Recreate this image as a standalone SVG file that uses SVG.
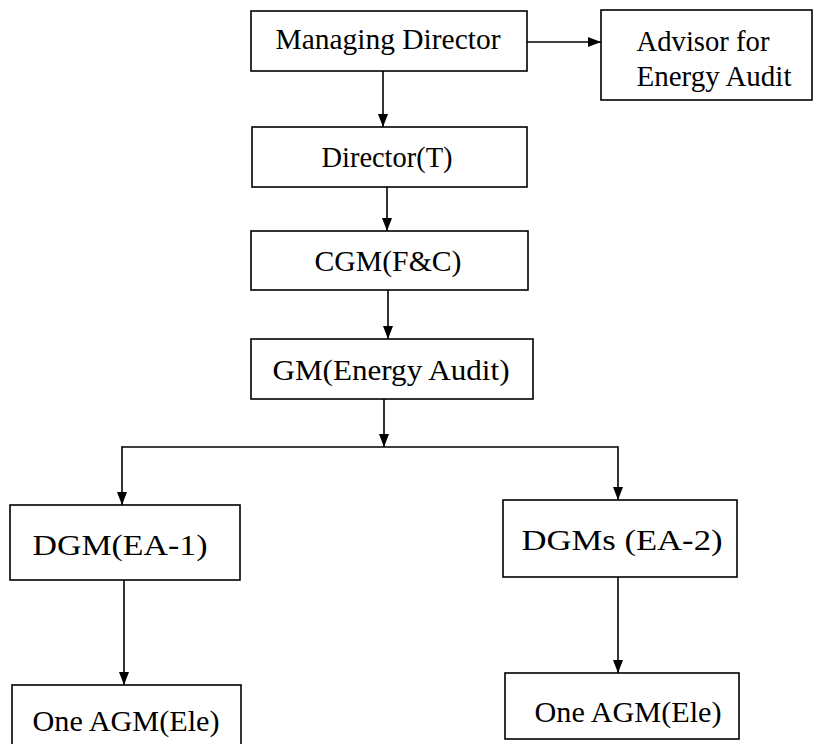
<svg xmlns="http://www.w3.org/2000/svg" width="813" height="744" viewBox="0 0 813 744">
<defs>
<marker id="ah" viewBox="0 0 13 10" refX="13" refY="5" markerWidth="13" markerHeight="10" markerUnits="userSpaceOnUse" orient="auto">
<path d="M0,0 L13,5 L0,10 z" fill="#000"/>
</marker>
<style>
.box{fill:#fff;stroke:#000;stroke-width:1.6}
.t{font-family:"Liberation Serif","Times New Roman",serif;font-size:29px;fill:#000;text-anchor:middle}
.c{stroke:#000;stroke-width:1.6;fill:none}
.a{marker-end:url(#ah)}
</style>
</defs>
<rect width="813" height="744" fill="#fff"/>
<g id="connectors">
<line class="c a" x1="527" y1="42" x2="601" y2="42"/>
<line class="c a" x1="383" y1="71" x2="383" y2="127"/>
<line class="c a" x1="387" y1="187" x2="387" y2="231"/>
<line class="c a" x1="388" y1="290" x2="388" y2="339"/>
<line class="c a" x1="384" y1="399" x2="384" y2="447"/>
<polyline class="c" points="122,447 618,447"/>
<line class="c a" x1="122" y1="446.2" x2="122" y2="505"/>
<line class="c a" x1="618" y1="446.2" x2="618" y2="500"/>
<line class="c a" x1="124" y1="580" x2="124" y2="685"/>
<line class="c a" x1="618" y1="577" x2="618" y2="673"/>
</g>
<g id="md"><rect class="box" x="251" y="11" width="276" height="60"/><text class="t" x="388" y="49" textLength="225" lengthAdjust="spacingAndGlyphs">Managing Director</text></g>
<g id="advisor"><rect class="box" x="601" y="10" width="211" height="90"/><text class="t" x="703" y="51" textLength="133" lengthAdjust="spacingAndGlyphs">Advisor for</text><text class="t" x="714" y="86" textLength="155" lengthAdjust="spacingAndGlyphs">Energy Audit</text></g>
<g id="director"><rect class="box" x="252" y="127" width="275" height="60"/><text class="t" x="387" y="167" textLength="131" lengthAdjust="spacingAndGlyphs">Director(T)</text></g>
<g id="cgm"><rect class="box" x="251" y="231" width="277" height="59"/><text class="t" x="388" y="271" textLength="147" lengthAdjust="spacingAndGlyphs">CGM(F&amp;C)</text></g>
<g id="gm"><rect class="box" x="251" y="339" width="282" height="60"/><text class="t" x="391" y="380" textLength="237" lengthAdjust="spacingAndGlyphs">GM(Energy  Audit)</text></g>
<g id="dgm1"><rect class="box" x="10" y="505" width="230" height="75"/><text class="t" x="120" y="555" textLength="175" lengthAdjust="spacingAndGlyphs">DGM(EA-1)</text></g>
<g id="dgm2"><rect class="box" x="503" y="500" width="234" height="77"/><text class="t" x="622" y="550" textLength="201" lengthAdjust="spacingAndGlyphs">DGMs (EA-2)</text></g>
<g id="agm1"><rect class="box" x="12" y="685" width="229" height="70"/><text class="t" x="126" y="731" textLength="187" lengthAdjust="spacingAndGlyphs">One AGM(Ele)</text></g>
<g id="agm2"><rect class="box" x="505" y="673" width="234" height="66"/><text class="t" x="628" y="722" textLength="187" lengthAdjust="spacingAndGlyphs">One AGM(Ele)</text></g>
</svg>
